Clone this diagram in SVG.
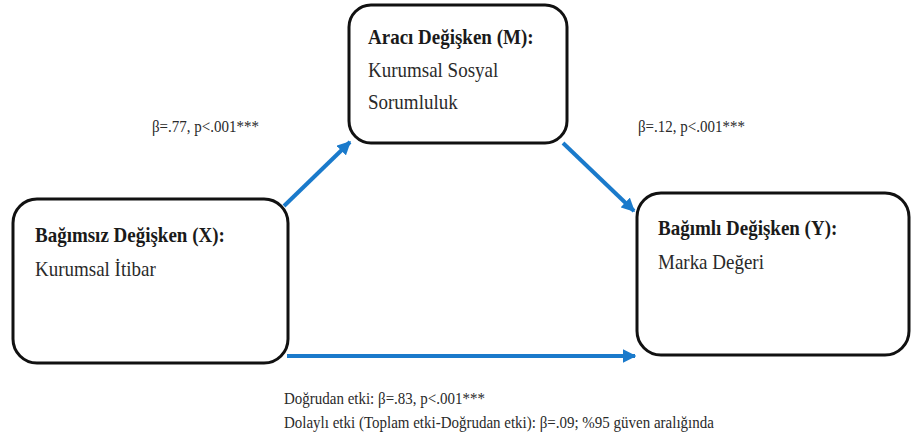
<svg xmlns="http://www.w3.org/2000/svg" width="911" height="441" viewBox="0 0 911 441">
  <defs>
    <marker id="head" viewBox="0 0 10 10" refX="9" refY="5" markerWidth="3.4" markerHeight="3.4" orient="auto" markerUnits="strokeWidth">
      <path d="M0,0 L10,5 L0,10 Z" fill="#1a7acb"/>
    </marker>
    <style>
      .box { fill: #ffffff; stroke: #111111; stroke-width: 3; }
      text { transform-box: fill-box; transform-origin: 0 80%; transform: scaleY(1.12); }
      .title { font-family: "Liberation Serif", "Times New Roman", serif; font-size: 19px; font-weight: bold; fill: #1a1a1a; }
      .body { font-family: "Liberation Serif", "Times New Roman", serif; font-size: 19px; fill: #2a2a2a; }
      .label { font-family: "Liberation Serif", "Times New Roman", serif; font-size: 15px; fill: #2a2a2a; }
      .edge { stroke: #1a7acb; stroke-width: 4; fill: none; marker-end: url(#head); }
    </style>
  </defs>

  <rect width="911" height="441" fill="#ffffff"/>

  <!-- connectors -->
  <g id="connectors">
    <line class="edge" x1="284" y1="206" x2="350" y2="142"/>
    <line class="edge" x1="563" y1="143" x2="634" y2="211"/>
    <line class="edge" x1="287" y1="356" x2="635" y2="356"/>
  </g>

  <!-- mediator -->
  <g id="node-m">
    <rect class="box" x="349" y="5" width="218" height="138" rx="22" ry="22"/>
    <text class="title" x="368" y="44">Aracı Değişken (M):</text>
    <text class="body" x="368" y="77">Kurumsal Sosyal</text>
    <text class="body" x="368" y="109">Sorumluluk</text>
  </g>

  <!-- independent -->
  <g id="node-x">
    <rect class="box" x="13" y="199" width="275" height="164" rx="24" ry="24"/>
    <text class="title" x="35" y="242">Bağımsız Değişken (X):</text>
    <text class="body" x="35" y="276">Kurumsal İtibar</text>
  </g>

  <!-- dependent -->
  <g id="node-y">
    <rect class="box" x="637" y="193" width="272" height="162" rx="24" ry="24"/>
    <text class="title" x="658" y="235">Bağımlı Değişken (Y):</text>
    <text class="body" x="658" y="269">Marka Değeri</text>
  </g>

  <!-- path coefficients -->
  <g id="labels">
    <text class="label" x="152" y="132">β=.77, p&lt;.001***</text>
    <text class="label" x="638" y="132">β=.12, p&lt;.001***</text>
    <text class="label" x="284" y="404">Doğrudan etki: β=.83, p&lt;.001***</text>
    <text class="label" x="284" y="428">Dolaylı etki (Toplam etki-Doğrudan etki): β=.09; %95 güven aralığında</text>
  </g>
</svg>
